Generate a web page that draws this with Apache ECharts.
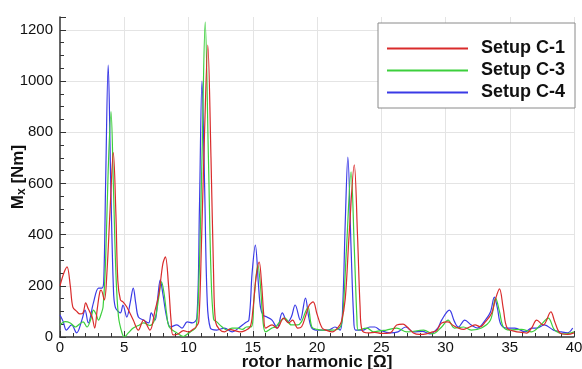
<!DOCTYPE html>
<html>
<head>
<meta charset="utf-8">
<script src="https://cdn.jsdelivr.net/npm/echarts@6/dist/echarts.min.js"></script>
<style>
  html, body { margin: 0; padding: 0; background: #fff; }
  #chart { width: 582px; height: 369px; }
</style>
</head>
<body>
<div id="chart"></div>
<script>
// legend names
const seriesNames = ['Setup C-1', 'Setup C-3', 'Setup C-4'];
const seriesColors = ['#d92b2b', '#3ccf3c', '#3a3ae6'];

// [harmonic, Mx]
const setupC1 = [
  [0, 200], [0.3, 250], [0.55, 274], [0.8, 200], [1.0, 117], [1.3, 100], [1.55, 90], [1.8, 95],
  [2.0, 133], [2.2, 110], [2.5, 78], [2.7, 35], [2.9, 110], [3.1, 176], [3.2, 183], [3.45, 145],
  [3.65, 250], [3.9, 500], [4.15, 720], [4.35, 480], [4.5, 220], [4.7, 145], [4.9, 137], [5.2, 117],
  [5.7, 66], [6.1, 27], [6.5, 66], [7.0, 27], [7.4, 105], [7.7, 170], [8.0, 285], [8.2, 313],
  [8.45, 200], [8.65, 60], [8.8, 8], [9.2, 12], [9.6, 25], [10.0, 20], [10.35, 30], [10.6, 40],
  [10.8, 60], [11.0, 350], [11.25, 800], [11.5, 1140], [11.75, 700], [11.95, 250], [12.1, 60],
  [12.4, 30], [12.8, 20], [13.2, 30], [13.6, 25], [14.0, 20], [14.4, 25], [14.8, 40], [15.0, 100],
  [15.25, 230], [15.5, 293], [15.7, 200], [15.85, 90], [16.0, 35], [16.5, 47], [16.9, 35],
  [17.4, 74], [17.8, 55], [18.1, 66], [18.5, 35], [18.8, 40], [19.1, 80], [19.4, 125], [19.7, 137],
  [20.0, 90], [20.4, 35], [20.8, 25], [21.2, 20], [21.6, 35], [21.9, 60], [22.2, 150], [22.5, 400],
  [22.9, 672], [23.15, 400], [23.35, 120], [23.5, 27], [24.0, 16], [24.5, 18], [25.0, 14],
  [25.7, 16], [26.2, 47], [26.7, 50], [27.0, 40], [27.5, 16], [28.0, 10], [28.5, 12], [29.0, 20],
  [29.3, 25], [29.7, 55], [30.2, 59], [30.6, 45], [31.0, 35], [31.4, 30], [31.7, 35], [32.3, 47],
  [32.7, 40], [33.1, 59], [33.6, 94], [33.9, 150], [34.2, 188], [34.5, 110], [34.8, 35],
  [35.4, 22], [36.0, 18], [36.3, 15], [36.7, 35], [37.1, 66], [37.6, 47], [38.2, 98], [38.5, 60],
  [38.9, 16], [39.5, 10], [40, 16]
];

const setupC3 = [
  [0, 47], [0.4, 60], [0.8, 55], [1.2, 39], [1.5, 50], [1.8, 59], [2.1, 39], [2.4, 70], [2.6, 105],
  [2.8, 90], [3.0, 66], [3.2, 90], [3.35, 117], [3.55, 300], [3.75, 650], [3.97, 880], [4.15, 600],
  [4.35, 250], [4.55, 80], [4.8, 20], [5.0, 0], [5.3, 15], [5.7, 35], [6.1, 45], [6.5, 55],
  [7.0, 45], [7.3, 60], [7.5, 94], [7.7, 160], [7.9, 215], [8.1, 170], [8.3, 90], [8.5, 39],
  [9.1, 16], [9.6, 2], [10.0, 15], [10.3, 25], [10.6, 40], [10.8, 200], [11.05, 700], [11.3, 1230],
  [11.55, 700], [11.75, 250], [11.95, 70], [12.2, 59], [12.6, 40], [13.0, 27], [13.4, 35],
  [13.8, 35], [14.2, 30], [14.5, 39], [14.9, 40], [15.1, 150], [15.4, 281], [15.6, 200], [15.8, 60],
  [16.0, 20], [16.5, 35], [16.8, 40], [17.1, 59], [17.5, 74], [18.0, 47], [18.5, 47], [18.8, 60],
  [19.1, 98], [19.3, 117], [19.6, 39], [20.0, 30], [20.4, 27], [21.2, 27], [21.8, 39], [22.0, 80],
  [22.3, 350], [22.65, 645], [22.9, 350], [23.1, 80], [23.2, 27], [23.9, 35], [24.4, 20],
  [25.0, 25], [25.4, 27], [26.2, 35], [27.0, 20], [28.3, 27], [29.0, 12], [29.7, 39], [30.2, 66],
  [30.7, 35], [31.4, 39], [32.0, 27], [32.8, 35], [33.5, 66], [33.9, 152], [34.2, 100], [34.5, 39],
  [35.0, 27], [35.9, 30], [36.7, 20], [37.4, 47], [38.0, 74], [38.5, 27], [39.3, 12], [40, 20]
];

const setupC4 = [
  [0, 86], [0.25, 60], [0.5, 27], [0.9, 47], [1.3, 16], [1.7, 66], [1.95, 105], [2.2, 55],
  [2.6, 133], [3.0, 191], [3.25, 191], [3.4, 215], [3.55, 600], [3.75, 1062], [3.95, 600],
  [4.15, 200], [4.3, 117], [4.7, 94], [4.9, 125], [5.2, 78], [5.45, 130], [5.7, 191], [5.9, 130],
  [6.1, 78], [6.5, 66], [6.9, 55], [7.1, 94], [7.4, 66], [7.6, 150], [7.8, 223], [8.0, 170],
  [8.3, 78], [8.6, 39], [9.1, 47], [9.5, 35], [9.9, 59], [10.3, 55], [10.65, 74], [10.85, 500],
  [11.05, 1000], [11.25, 600], [11.45, 150], [11.7, 35], [12.2, 27], [12.8, 35], [13.4, 20],
  [13.9, 35], [14.4, 55], [14.7, 66], [14.95, 250], [15.2, 359], [15.45, 200], [15.6, 117],
  [15.8, 86], [16.1, 78], [16.5, 66], [16.9, 35], [17.3, 94], [17.7, 59], [18.0, 78], [18.3, 125],
  [18.7, 66], [19.1, 152], [19.35, 80], [19.6, 35], [20.1, 27], [20.9, 27], [21.4, 39], [21.8, 27],
  [22.0, 120], [22.2, 450], [22.4, 703], [22.65, 350], [22.85, 80], [23.0, 27], [23.6, 27],
  [24.1, 39], [24.5, 39], [24.9, 27], [25.7, 16], [26.3, 20], [26.9, 39], [27.5, 20], [28.2, 22],
  [28.8, 12], [29.4, 35], [29.7, 66], [30.3, 105], [30.7, 60], [31.0, 39], [31.5, 66], [32.0, 47],
  [32.5, 35], [33.1, 66], [33.5, 98], [33.8, 156], [34.05, 110], [34.3, 50], [34.8, 35],
  [35.4, 35], [36.2, 20], [36.7, 35], [37.1, 35], [37.7, 47], [38.4, 27], [39.0, 20], [39.5, 16],
  [39.9, 35]
];

const allData = [setupC1, setupC3, setupC4];

const chart = echarts.init(document.getElementById('chart'));
const font = 'Liberation Sans, Arial, Helvetica, sans-serif';

const option = {
  backgroundColor: '#fff',
  animation: false,
  textStyle: { fontFamily: font },
  grid: { left: 60, right: 8, top: 17, bottom: 32, containLabel: false, outerBoundsMode: 'none' },
  legend: {
    orient: 'vertical',
    left: 378,
    top: 23,
    width: 197,
    align: 'left',
    backgroundColor: '#fff',
    borderColor: '#8a8a8a',
    borderWidth: 1,
    borderRadius: 0,
    padding: [15, 10, 5, 9],
    itemWidth: 81,
    itemHeight: 2,
    itemGap: 1,
    icon: 'rect',
    textStyle: {
      fontFamily: font, fontSize: 18, fontWeight: 'bold', color: '#111',
      lineHeight: 21, padding: [0, 0, 0, 8]
    },
    data: seriesNames
  },
  xAxis: {
    type: 'value',
    min: 0, max: 40, interval: 5,
    name: 'rotor harmonic [Ω]',
    nameLocation: 'middle',
    nameGap: 17,
    nameMoveOverlap: false,
    nameTextStyle: { fontFamily: font, fontSize: 17, fontWeight: 'bold', color: '#111' },
    axisLine: { show: true, lineStyle: { color: '#333', width: 1.5 } },
    axisTick: { show: true, inside: true, length: 6, lineStyle: { color: '#333' } },
    minorTick: { show: true, splitNumber: 5, length: 4, lineStyle: { color: '#333' } },
    axisLabel: { fontFamily: font, fontSize: 15, color: '#111', margin: 3 },
    splitLine: { show: true, showMinLine: false, lineStyle: { color: '#e4e4e4', width: 1 } }
  },
  yAxis: {
    type: 'value',
    min: 0, max: 1250, interval: 200,
    name: '{b|M}{s|x}{b| [Nm]}',
    nameLocation: 'middle',
    nameGap: 32,
    nameMoveOverlap: false,
    nameRotate: 90,
    nameTextStyle: {
      rich: {
        b: { fontFamily: font, fontSize: 17, fontWeight: 'bold', color: '#111' },
        s: { fontFamily: font, fontSize: 12, fontWeight: 'bold', color: '#111', verticalAlign: 'bottom', padding: [8, 0, 0, 0] }
      }
    },
    axisLine: { show: true, lineStyle: { color: '#333', width: 1.5 } },
    axisTick: { show: true, inside: true, length: 6, lineStyle: { color: '#333' } },
    minorTick: { show: true, splitNumber: 4, length: 4, lineStyle: { color: '#333' } },
    axisLabel: {
      fontFamily: font, fontSize: 15, color: '#111', margin: 7, showMaxLabel: false,
      formatter: v => String(v)
    },
    splitLine: { show: true, showMinLine: false, showMaxLine: false, lineStyle: { color: '#e4e4e4', width: 1 } }
  },
  series: seriesNames.map((name, i) => ({
    name: name,
    type: 'line',
    data: allData[i],
    showSymbol: false,
    smooth: 0.35,
    color: seriesColors[i],
    lineStyle: { width: 1.2, color: seriesColors[i] },
    z: 3 - i
  }))
};

chart.setOption(option);
</script>
</body>
</html>
